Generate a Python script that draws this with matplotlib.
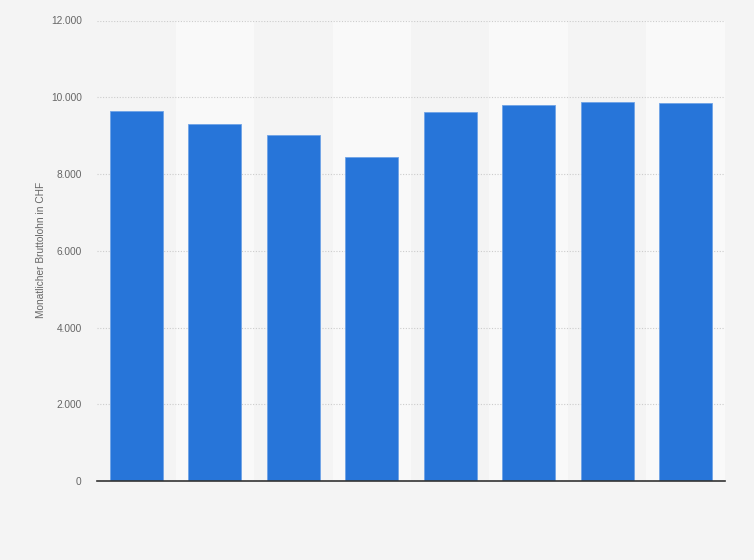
import matplotlib.pyplot as plt
import numpy as np

# Données
categories = ['1', '2', '3', '4', '5', '6', '7', '8']
lohn = [9643, 9304, 9017, 8444, 9617, 9799, 9877, 9851]
y_ticks = [0, 2000, 4000, 6000, 8000, 10000, 12000]
y_labels = ['0', '2.000', '4.000', '6.000', '8.000', '10.000', '12.000']

plt.rcParams['font.family'] = ['Liberation Sans', 'DejaVu Sans']

fig = plt.figure(figsize=(7.54, 5.6), dpi=100, facecolor='#f4f4f4')
ax = fig.add_axes([97 / 754, 1 - 481 / 560, 628 / 754, 460.5 / 560])
ax.set_facecolor('#f4f4f4')

x = np.arange(len(categories))

# Bandes alternées en arrière-plan
for i in x:
    if i % 2 == 1:
        ax.axvspan(i - 0.5, i + 0.5, color='#f9f9f9', zorder=0, lw=0)

ax.bar(x, lohn, width=0.68, color='#2775d9', edgecolor='#6fa3e6',
       linewidth=0.6, zorder=3)

ax.set_xlim(-0.5, len(categories) - 0.5)
ax.set_ylim(0, 12000)
ax.set_yticks(y_ticks)
ax.set_yticklabels(y_labels, fontsize=7.3, color='#666666')
ax.set_xticks([])
ax.tick_params(axis='y', length=0, pad=11)

ax.grid(axis='y', color='#cccccc', linestyle=(0, (1, 1.5)), linewidth=0.8, zorder=1)
for s in ['top', 'right', 'left']:
    ax.spines[s].set_visible(False)
ax.spines['bottom'].set_color('#333333')
ax.spines['bottom'].set_linewidth(1.2)
ax.spines['bottom'].set_zorder(4)

ax.set_ylabel('Monatlicher Bruttolohn in CHF', fontsize=7.3, color='#666666')
ax.yaxis.set_label_coords(-(97 - 46) / 628, (481 - 250) / 460.5)

fig.savefig('out.png', dpi=100, facecolor=fig.get_facecolor())
